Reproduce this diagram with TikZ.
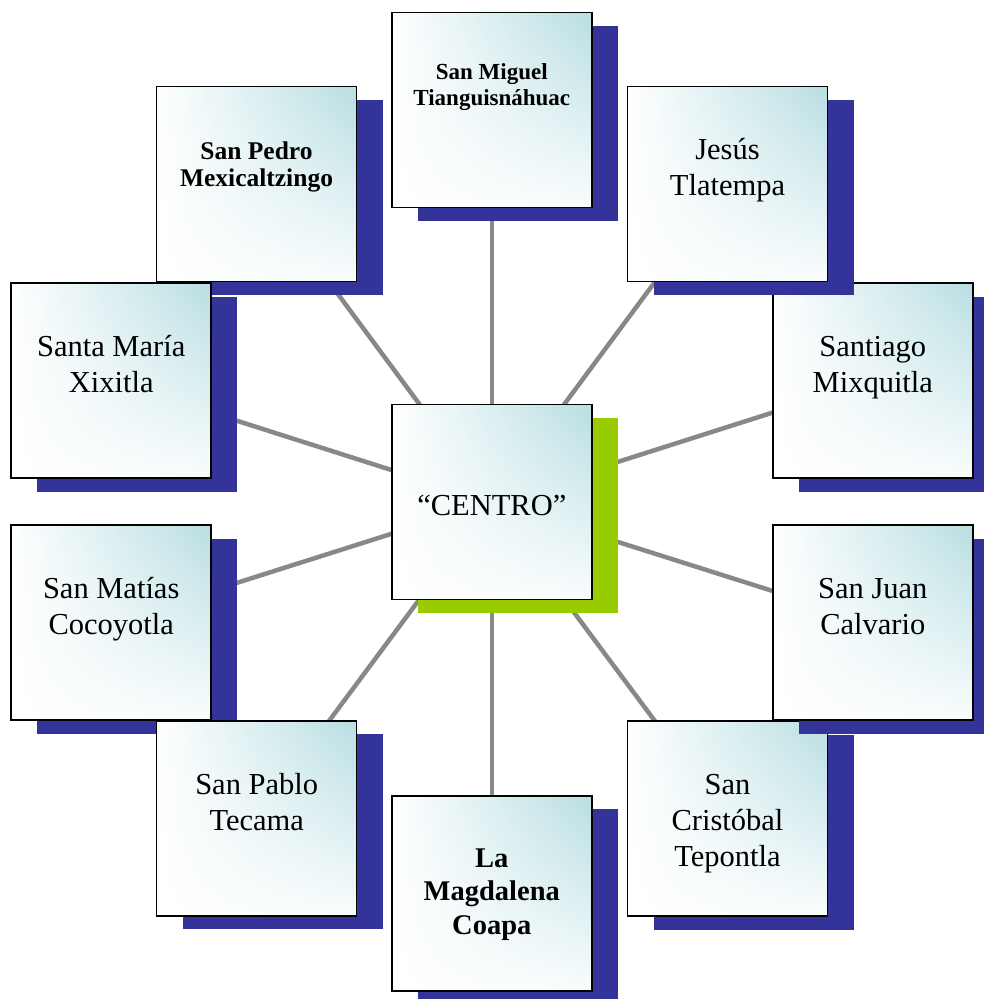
\documentclass[tikz,border=0pt]{standalone}
\usepackage{fontspec}
\setmainfont{Liberation Serif}
\usetikzlibrary{shadows,shadings}
\pgfdeclarelayer{bg}
\pgfsetlayers{bg,main}
\definecolor{navy}{RGB}{51,51,153}
\definecolor{limeg}{RGB}{153,204,0}
\definecolor{tealc}{RGB}{184,222,226}
\definecolor{linegray}{RGB}{136,136,136}
\tikzset{
  box/.style={draw=black, line width=1.5pt, minimum width=200pt, minimum height=195pt,
    inner sep=0pt, upper right=tealc, upper left=white, lower left=white, lower right=tealc!8},
  navyshadow/.style={general shadow={fill=navy, shadow xshift=26pt, shadow yshift=-13.5pt}},
  limeshadow/.style={general shadow={fill=limeg, shadow xshift=26pt, shadow yshift=-13.5pt}},
  regtext/.style={anchor=base, align=center, inner sep=0pt, font=\fontsize{30.5}{36}\selectfont},
  conn/.style={draw=linegray, line width=4.5pt},
}
\begin{document}
\begin{tikzpicture}[x=1pt, y=-1pt]
\useasboundingbox (0,0) rectangle (984,999);
% boxes (order matters for overlaps)
\node[box, navyshadow] (T)   at (491.8,110)   {};
\node[box, navyshadow] (RU)  at (872.8,380.7) {};
\node[box, navyshadow] (TR)  at (727.5,184)   {};
\node[box, navyshadow] (TL)  at (256.5,184)   {};
\node[box, navyshadow] (LU)  at (111.2,380.7) {};
\node[box, navyshadow] (LL)  at (111.2,622.7) {};
\node[box, navyshadow] (BL)  at (256.7,818.3) {};
\node[box, navyshadow] (BR)  at (727.5,818.5) {};
\node[box, navyshadow] (RL)  at (872.8,622.7) {};
\node[box, navyshadow] (B)   at (491.8,893.3) {};
\node[box, limeshadow] (C)   at (491.8,502)   {};
% texts (anchor base = baseline of the last line)
\node[anchor=base, align=center, inner sep=0pt, font=\fontsize{23}{26}\selectfont\bfseries] (Tt) at ([yshift=-94pt]T.north) {San Miguel\\Tianguisnáhuac};
\node[anchor=base, align=center, inner sep=0pt, font=\fontsize{25.5}{26.7}\selectfont\bfseries] (TLt) at ([yshift=-100.7pt]TL.north) {San Pedro\\Mexicaltzingo};
\node[regtext] (TRt) at ([yshift=-110pt]TR.north) {Jesús\\Tlatempa};
\node[regtext] (LUt) at ([yshift=-110pt]LU.north) {Santa María\\Xixitla};
\node[regtext] (RUt) at ([yshift=-110pt]RU.north) {Santiago\\Mixquitla};
\node[regtext] (LLt) at ([yshift=-110pt]LL.north) {San Matías\\Cocoyotla};
\node[regtext] (RLt) at ([yshift=-110pt]RL.north) {San Juan\\Calvario};
\node[regtext] (BLt) at ([yshift=-110pt]BL.north) {San Pablo\\Tecama};
\node[regtext] (BRt) at ([yshift=-146pt]BR.north) {San\\Cristóbal\\Tepontla};
\node[anchor=base, align=center, inner sep=0pt, font=\fontsize{28.5}{33.5}\selectfont\bfseries] (Bt) at ([yshift=-139pt]B.north) {La\\Magdalena\\Coapa};
\node[regtext] (Ct) at ([yshift=-112pt]C.north) {“CENTRO”};
% connectors behind everything
\begin{pgfonlayer}{bg}
\foreach \n in {T,TR,RU,RL,BR,B,BL,LL,LU,TL}
  \draw[conn] (C.center) -- (\n.center);
\end{pgfonlayer}
\end{tikzpicture}
\end{document}
